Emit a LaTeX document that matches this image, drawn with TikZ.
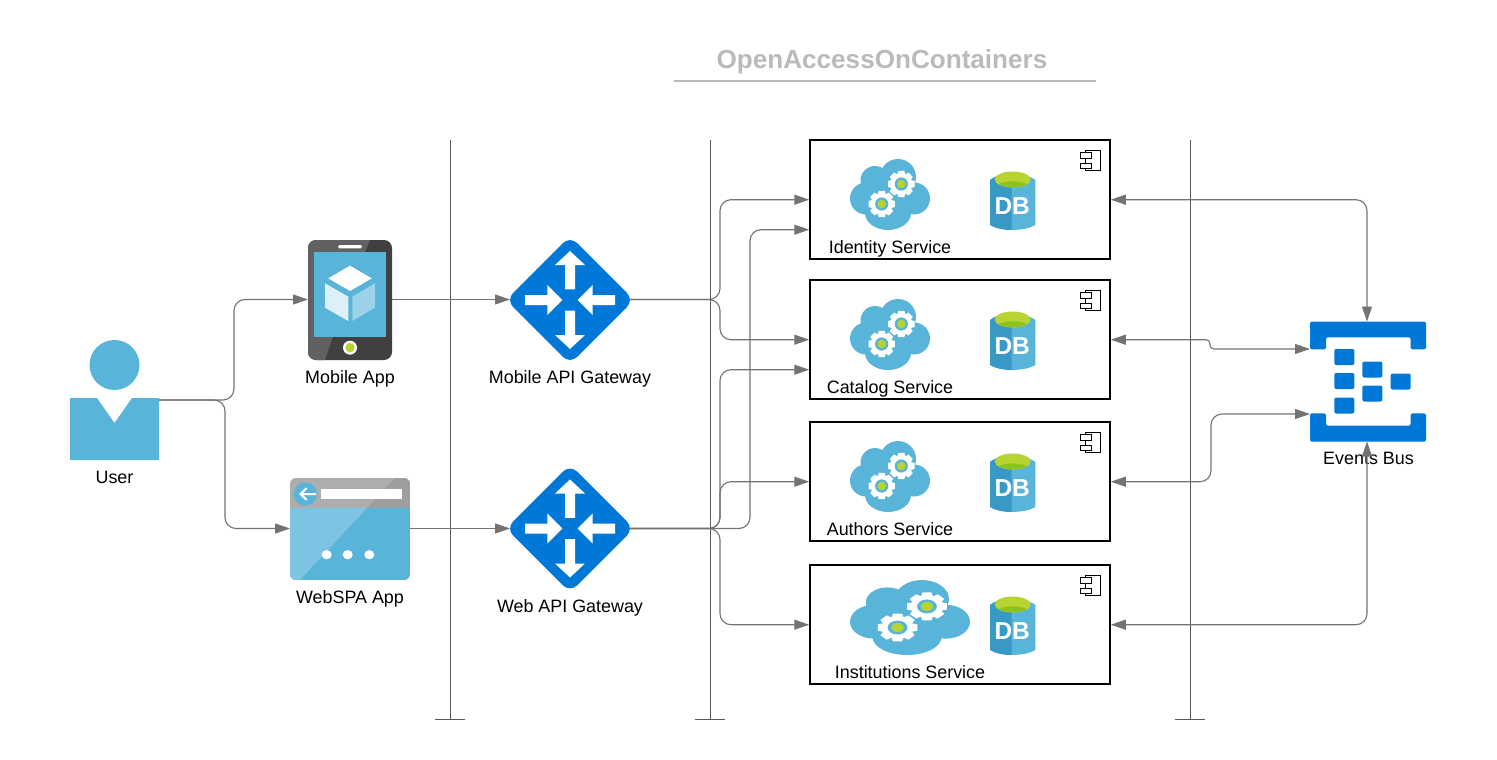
\documentclass[tikz,border=0pt]{standalone}
\usepackage{fontspec}
\setmainfont{Liberation Sans}
\usetikzlibrary{arrows.meta}

\definecolor{azblue}{HTML}{0078D7}
\definecolor{skyblue}{HTML}{59B4D9}
\definecolor{skylight}{HTML}{7CC4E1}
\definecolor{skydark}{HTML}{3999C6}
\definecolor{leaf}{HTML}{B8D432}
\definecolor{leafdark}{HTML}{8CC21A}
\definecolor{linkgray}{HTML}{737373}

\tikzset{
    pics/gearicon/.style={code={
        \foreach \a in {0,45,...,315}
            \fill[white, rotate=\a] (-3,-13.2) -- (3,-13.2) -- (4.4,-8) -- (-4.4,-8) -- cycle;
        \fill[white] (0,0) circle[radius=10.4];
        \fill[skyblue] (0,0) circle[radius=6.6];
        \fill[leaf] (0,0) circle[radius=4.2];
    }},
    pics/cloudicon/.style={code={
        \fill[skyblue] (-24,4) circle[radius=16] (-15,-14) circle[radius=14.5] (8,-17.5) circle[radius=18]
            (24,4) circle[radius=16] (-2,18.5) ellipse[x radius=23, y radius=17] (0,0) ellipse[x radius=30, y radius=22];
        \pic[transform shape] at (11.3,-10.5) {gearicon};
        \pic[transform shape] at (-8.3,9.5) {gearicon};
    }},
    pics/dbicon/.style={code={
        \fill[skyblue] (-22.7,0) -- (-22.7,45) .. controls (-12,51.5) and (12,51.5) .. (22.7,45) -- (22.7,0)
            .. controls (12,-8) and (-12,-8) .. cycle;
        \fill[skydark] (-22.7,0) -- (-22.7,45) .. controls (-16,49) and (-8,50) .. (-1,50) -- (-1,-6)
            .. controls (-10,-6) and (-16,-5) .. cycle;
        \fill[leaf] (0,-0.5) ellipse[x radius=18, y radius=8];
        \fill[leafdark] (-14,4) .. controls (-7,0.5) and (7,0.5) .. (14,4) .. controls (8,8.2) and (-8,8.2) .. cycle;
        \node[text=white, inner sep=0pt, font=\fontsize{24.5}{26}\selectfont\bfseries] (label) at (-0.5,26) {DB};
    }},
    pics/usericon/.style={code={
        \fill[skyblue] (0,-35) circle[radius=25];
        \fill[skyblue] (-44.5,-2) -- (-17.5,-2) -- (0,23) -- (17.5,-2) -- (44.5,-2) -- (44.5,60) -- (-44.5,60) -- cycle;
    }},
    pics/mobileicon/.style={code={
        \fill[black!75, rounded corners=8pt] (-42,-60) rectangle (42,60);
        \begin{scope}
            \clip[rounded corners=8pt] (-42,-60) rectangle (42,60);
            \fill[black!62] (-42,-60) -- (20,-60) -- (15,-48) -- (-17,36) -- (-25,60) -- (-42,60) -- cycle;
        \end{scope}
        \fill[skyblue] (-36,-48) rectangle (36,36.5);
        \fill[white, rounded corners=1.5pt] (-12,-55) rectangle (12,-51.7);
        \fill[white] (0,47.7) circle[radius=7];
        \fill[leaf] (0,47.7) circle[radius=4.7];
        \fill[white] (0,-34.3) -- (21.7,-21.7) -- (0,-9) -- (-21.7,-21.7) -- cycle;
        \fill[white!80!skyblue] (-25,-16.7) -- (-1.7,-3.3) -- (-1.7,21) -- (-25,7.7) -- cycle;
        \fill[white!40!skyblue] (2.3,-3.3) -- (25,-16.7) -- (25,7.7) -- (2.3,21) -- cycle;
    }},
    pics/webicon/.style={code={
        \begin{scope}
            \clip[rounded corners=6pt] (-60,-50) rectangle (60,52);
            \fill[skyblue] (-60,-20.3) rectangle (60,52);
            \fill[skylight] (-60,-20.3) -- (17.3,-20.3) -- (-50,52) -- (-60,52) -- cycle;
            \fill[black!32] (-60,-50) rectangle (60,-20.3);
            \fill[black!38] (45,-50) -- (17.3,-20.3) -- (60,-20.3) -- (60,-50) -- cycle;
        \end{scope}
        \fill[skyblue] (-44.7,-34) circle[radius=11.7];
        \draw[white, line width=2pt] (-49,-34) -- (-34,-34) (-43.3,-40) -- (-49.5,-34) -- (-43.3,-28);
        \fill[white] (-29.3,-38.7) rectangle (51.7,-29);
        \foreach \x in {-23.3,-2.3,19.3}
            \fill[white] (\x,26.7) ellipse[x radius=5, y radius=4.6];
    }},
    pics/gatewayicon/.style={code={
        \fill[azblue, rounded corners=10pt] (0,-64) -- (64,0) -- (0,64) -- (-64,0) -- cycle;
        \foreach \a in {0,180}
            \fill[white, rotate=\a] (-5,-10.7) -- (-5,-35) -- (-15,-35) -- (0,-49) -- (15,-35) -- (5,-35) -- (5,-10.7) -- cycle;
        \foreach \a in {0,180}
            \fill[white, rotate=\a] (-45,-5) -- (-22.7,-5) -- (-22.7,-15) -- (-7.7,0) -- (-22.7,15) -- (-22.7,5) -- (-45,5) -- cycle;
    }},
    pics/busicon/.style={code={
        \fill[azblue, rounded corners=1.5pt] (-58,-59.8) -- (58,-59.8) -- (58,-32.2) -- (42.7,-32.2) -- (42.7,-44.2)
            -- (-42,-44.2) -- (-42,-32.2) -- (-58,-32.2) -- cycle;
        \fill[azblue, rounded corners=1.5pt] (-58,60.2) -- (58,60.2) -- (58,31.8) -- (42.7,31.8) -- (42.7,44.2)
            -- (-42,44.2) -- (-42,31.8) -- (-58,31.8) -- cycle;
        \foreach \x/\y in {-23.7/-24.5, -23.7/-0.5, -23.7/24, 4.3/-12, 4.3/12, 32.7/0}
            \fill[azblue, rounded corners=2pt] (\x-10,\y-8) rectangle (\x+10,\y+8);
    }},
    pics/partmark/.style={code={
        \draw[black, line width=0.9pt, fill=white] (-15,-10.3) rectangle (0,10.3);
        \draw[black, line width=0.9pt, fill=white] (-20.5,-7.8) rectangle (-9,-2.2);
        \draw[black, line width=0.9pt, fill=white] (-20.5,2.8) rectangle (-9,8.5);
    }}
}

\begin{document}
\begin{tikzpicture}[x=1pt, y=-1pt, >={Triangle[length=15pt, width=10pt]},
    every node/.style={font=\fontsize{17.9}{20}\selectfont},
    iconbox/.style={inner sep=0pt, outer sep=0pt},
    caption/.style={anchor=base, inner sep=0pt},
    service/.style={draw=black, line width=2pt, fill=white, minimum width=299.5pt, minimum height=119pt, inner sep=0pt},
    link/.style={draw=linkgray, fill=none, line width=1.1pt, rounded corners=11pt},
    divider/.style={draw=black!65, line width=1pt}]
    \useasboundingbox (0,0) rectangle (1497,760);

    \node[text=black!27, font=\fontsize{26.1}{30}\selectfont\bfseries] (title) at (882,62) {OpenAccessOnContainers};
    \coordinate (ruleleft) at (674,81);
    \coordinate (ruleright) at (1096,81);
    \draw[black!27, line width=2pt] (ruleleft) -- (ruleright);

    \foreach \x in {450,710,1190}
        \draw[divider] (\x,140) -- (\x,719.5) (\x-15,719.5) -- (\x+15,719.5);

    \node[service] (identity) at (960,199.7) {};
    \node[service] (catalog) at (960,339.7) {};
    \node[service] (authors) at (960,481.7) {};
    \node[service] (institutions) at (960,624.7) {};

    \node[iconbox, minimum width=89pt, minimum height=120pt] (user) at (114.5,400) {};
    \node[iconbox, minimum width=84pt, minimum height=120pt] (mobile) at (350,299.5) {};
    \node[iconbox, minimum width=120pt, minimum height=104pt] (web) at (350,528.5) {};
    \node[iconbox, minimum width=120pt, minimum height=120pt] (mobileapi) at (570,299.5) {};
    \node[iconbox, minimum width=120pt, minimum height=120pt] (webapi) at (570,528.5) {};
    \node[iconbox, minimum width=116pt, minimum height=120pt] (bus) at (1368,381.5) {};

    \pic at (user) {usericon};
    \pic at (350,300) {mobileicon};
    \pic at (350,528) {webicon};
    \pic at (570,300) {gatewayicon};
    \pic at (webapi) {gatewayicon};
    \pic at (bus) {busicon};

    \pic at (890,194.5) {cloudicon};
    \pic at (890,334.5) {cloudicon};
    \pic at (890,476.5) {cloudicon};
    \pic[xscale=1.5, yscale=1.056] at (910,617.5) {cloudicon};
    \pic (dba) at (1012.7,180) {dbicon};
    \pic (dbb) at (1012.7,320) {dbicon};
    \pic (dbc) at (1012.7,462) {dbicon};
    \pic (dbd) at (1012.7,605) {dbicon};
    \pic at (1100.7,160.3) {partmark};
    \pic at (1100.7,300.3) {partmark};
    \pic at (1100.7,442.3) {partmark};
    \pic at (1100.7,585.3) {partmark};

    \node[caption] (userlabel) at (114.5,483) {User};
    \node[caption] (mobilelabel) at (350,383) {Mobile App};
    \node[caption] (weblabel) at (350,603) {WebSPA App};
    \node[caption] (mobileapilabel) at (570,383) {Mobile API Gateway};
    \node[caption] (webapilabel) at (570,612) {Web API Gateway};
    \node[caption] (identitylabel) at (890,253) {Identity Service};
    \node[caption] (cataloglabel) at (890,393) {Catalog Service};
    \node[caption] (authorslabel) at (890,535) {Authors Service};
    \node[caption] (institutionslabel) at (910,678) {Institutions Service};
    \node[caption] (buslabel) at (1368.5,464) {Events Bus};

    \draw[->, link] (user.east) -- (234,400) -- (234,299.5) -- (mobile.west);
    \draw[->, link] (user.east) -- (225,400) -- (225,528.5) -- (web.west);
    \draw[->, link] (mobile.east) -- (mobileapi.west);
    \draw[->, link] (web.east) -- (webapi.west);

    \draw[->, link] (mobileapi.east) -- (720,299.5) -- (720,199.7) -- (identity.west);
    \draw[->, link] (mobileapi.east) -- (720,299.5) -- (720,339.7) -- (catalog.west);
    \draw[->, link] (webapi.east) -- (750,528.5) -- (750,229.7) -- ([yshift=-30pt]identity.west);
    \draw[->, link] (webapi.east) -- (720,528.5) -- (720,369.7) -- ([yshift=-30pt]catalog.west);
    \draw[->, link] (webapi.east) -- (720,528.5) -- (720,481.7) -- (authors.west);
    \draw[->, link] (webapi.east) -- (720,528.5) -- (720,624.7) -- (institutions.west);

    \draw[<->, link] (identity.east) -- (1367,199.7) -- ([xshift=-1pt]bus.north);
    \draw[<->, link, rounded corners=4pt] (catalog.east) -- (1210,339.7) -- (1210,349) -- ([yshift=32.5pt]bus.west);
    \draw[<->, link] (authors.east) -- (1211,481.7) -- (1211,414) -- ([yshift=-32.5pt]bus.west);
    \draw[<->, link] (institutions.east) -- (1367,624.7) -- ([xshift=-1pt]bus.south);
\end{tikzpicture}
\end{document}
